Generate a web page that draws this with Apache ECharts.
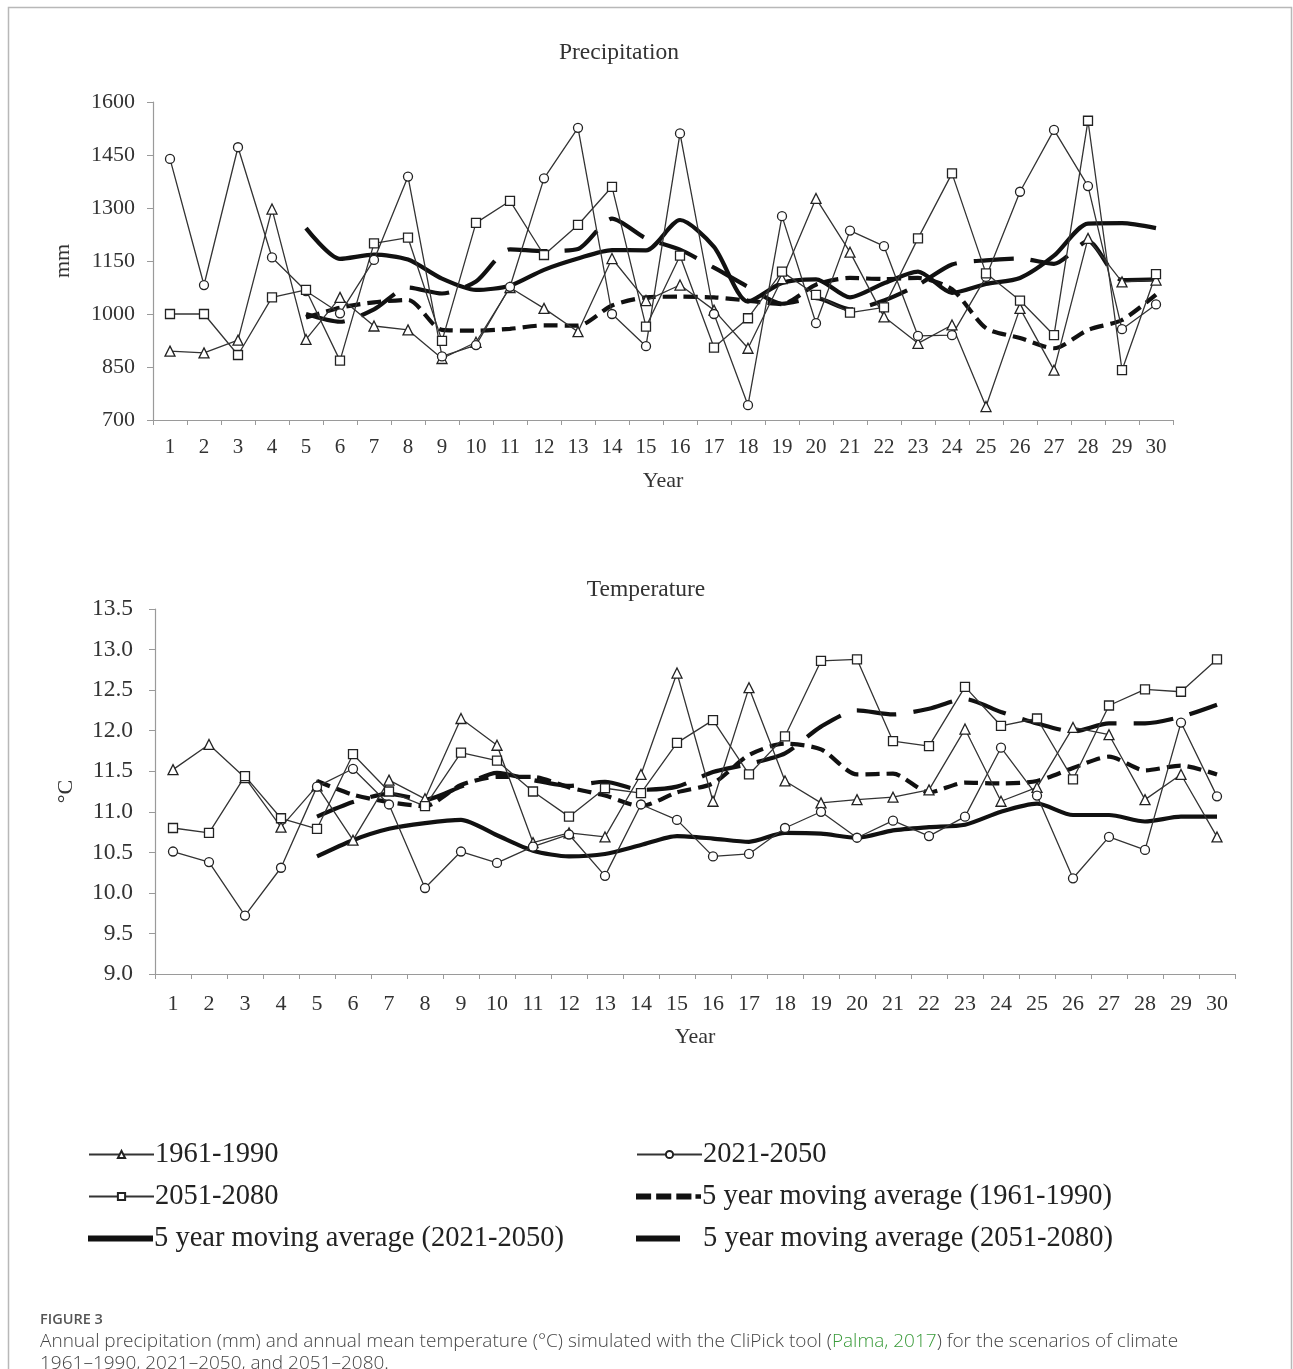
<!DOCTYPE html>
<html>
<head>
<meta charset="utf-8">
<script src="https://cdn.jsdelivr.net/npm/echarts@6/dist/echarts.min.js"></script>
<style>
  html, body { margin: 0; padding: 0; background: #fff; }
  #chart { width: 1293px; height: 1369px; }
</style>
</head>
<body>
<div id="chart"></div>
<script>
// ---------- DATA ----------
const years = ['1','2','3','4','5','6','7','8','9','10','11','12','13','14','15','16','17','18','19','20','21','22','23','24','25','26','27','28','29','30'];

// Precipitation (mm)
const precip1961 = [895, 890, 926, 1297, 928, 1047, 966, 955, 874, 920, 1075, 1016, 950, 1157, 1038, 1082, 1011, 903, 1100, 1327, 1175, 992, 917, 969, 738, 1016, 841, 1214, 1091, 1096];
const precip2021 = [1439, 1082, 1472, 1160, 1065, 1002, 1153, 1389, 880, 912, 1077, 1384, 1527, 1000, 909, 1511, 1000, 742, 1277, 974, 1236, 1192, 938, 940, 1105, 1346, 1521, 1362, 957, 1027];
const precip2051 = [1000, 1000, 884, 1047, 1068, 868, 1200, 1216, 924, 1258, 1320, 1167, 1252, 1360, 964, 1165, 905, 988, 1120, 1054, 1004, 1019, 1214, 1398, 1115, 1038, 940, 1547, 841, 1113];
const precipMA1961 = [null, null, null, null, 990, 1018, 1033, 1040, 955, 953, 958, 968, 967, 1024, 1047, 1049, 1047, 1038, 1028, 1083, 1102, 1099, 1102, 1070, 960, 932, 903, 955, 983, 1055];
const precipMA2021 = [null, null, null, null, 1243, 1156, 1168, 1154, 1100, 1068, 1080, 1125, 1157, 1181, 1180, 1266, 1190, 1035, 1088, 1098, 1047, 1087, 1120, 1060, 1085, 1102, 1165, 1256, 1257, 1243];
const precipMA2051 = [null, null, null, null, 1000, 978, 1013, 1075, 1058, 1092, 1183, 1178, 1184, 1270, 1214, 1182, 1131, 1077, 1029, 1045, 1013, 1038, 1082, 1140, 1152, 1157, 1142, 1206, 1096, 1098];

// Temperature (°C)
const temp1961 = [11.52, 11.83, 11.42, 10.81, 11.32, 10.65, 11.39, 11.16, 12.15, 11.82, 10.62, 10.74, 10.69, 11.46, 12.71, 11.13, 12.53, 11.38, 11.11, 11.15, 11.18, 11.27, 12.02, 11.13, 11.30, 12.04, 11.95, 11.15, 11.46, 10.69];
const temp2021 = [10.51, 10.38, 9.72, 10.31, 11.31, 11.53, 11.09, 10.06, 10.51, 10.37, 10.57, 10.72, 10.21, 11.09, 10.90, 10.45, 10.48, 10.80, 11.00, 10.68, 10.89, 10.70, 10.94, 11.79, 11.20, 10.18, 10.69, 10.53, 12.10, 11.19];
const temp2051 = [10.80, 10.74, 11.44, 10.92, 10.79, 11.71, 11.25, 11.07, 11.73, 11.63, 11.25, 10.94, 11.29, 11.23, 11.85, 12.13, 11.46, 11.93, 12.86, 12.88, 11.87, 11.81, 12.54, 12.06, 12.15, 11.40, 12.31, 12.51, 12.48, 12.88];
const tempMA1961 = [null, null, null, null, 11.38, 11.21, 11.12, 11.07, 11.33, 11.43, 11.43, 11.30, 11.20, 11.07, 11.24, 11.35, 11.70, 11.84, 11.77, 11.46, 11.47, 11.24, 11.36, 11.35, 11.38, 11.54, 11.68, 11.51, 11.57, 11.46];
const tempMA2021 = [null, null, null, null, 10.45, 10.65, 10.79, 10.86, 10.90, 10.71, 10.52, 10.45, 10.48, 10.59, 10.70, 10.67, 10.63, 10.74, 10.73, 10.68, 10.77, 10.81, 10.84, 11.00, 11.10, 10.96, 10.96, 10.88, 10.94, 10.94];
const tempMA2051 = [null, null, null, null, 10.94, 11.12, 11.22, 11.15, 11.31, 11.48, 11.39, 11.32, 11.37, 11.27, 11.31, 11.49, 11.59, 11.72, 12.05, 12.25, 12.20, 12.27, 12.39, 12.23, 12.09, 11.99, 12.09, 12.09, 12.17, 12.32];

const names = ['1961-1990', '2021-2050', '2051-2080',
  '5 year moving average (1961-1990)', '5 year moving average (2021-2050)', '5 year moving average (2051-2080)'];

// ---------- STYLE ----------
const SERIF = '"Liberation Serif", "DejaVu Serif", serif';
const SANS = '"Open Sans", "Noto Sans", sans-serif';
const axisGray = '#9a9a9a';

function thin(name, data, idx, symbol) {
  return {
    type: 'line', name, data, xAxisIndex: idx, yAxisIndex: idx,
    symbol, symbolSize: symbol === 'triangle' ? 10 : 9,
    itemStyle: { color: '#fff', borderColor: '#222', borderWidth: 1.3 },
    lineStyle: { color: '#333', width: 1.3 },
    emphasis: { disabled: true }, z: 3
  };
}
function ma(name, data, idx, dash) {
  return {
    type: 'line', name, data, xAxisIndex: idx, yAxisIndex: idx,
    symbol: 'none', smooth: 0.25, connectNulls: false,
    itemStyle: { color: '#111' },
    lineStyle: { color: '#111', width: 4.2, type: dash, cap: 'butt' },
    emphasis: { disabled: true }, z: 2
  };
}
function xAxisCfg(gridIndex, nameGap, fs, margin) {
  return {
    type: 'category', gridIndex, data: years, boundaryGap: true,
    name: 'Year', nameLocation: 'middle', nameGap,
    nameTextStyle: { fontFamily: SERIF, fontSize: 22, color: '#333' },
    axisLine: { show: true, lineStyle: { color: axisGray, width: 1.2 } },
    axisTick: { show: true, length: 5, lineStyle: { color: axisGray } },
    axisLabel: { fontFamily: SERIF, fontSize: fs, color: '#333', margin },
    splitLine: { show: false }
  };
}
function yAxisCfg(gridIndex, min, max, interval, name, nameGap, fmt, margin, fs) {
  return {
    type: 'value', gridIndex, min, max, interval,
    name, nameLocation: 'middle', nameGap, nameRotate: 90,
    nameTextStyle: { fontFamily: SERIF, fontSize: 22, color: '#333' },
    axisLine: { show: true, lineStyle: { color: axisGray, width: 1.2 } },
    axisTick: { show: true, length: 6, lineStyle: { color: axisGray } },
    axisLabel: { fontFamily: SERIF, fontSize: fs, color: '#333', margin, formatter: fmt },
    splitLine: { show: false }
  };
}

const dashShort = [14, 7];
const dashLong = [40, 17];

// legend icons for the moving averages
const iconMA1961 = 'path://M0,0H15V6H0Z M20,0H35V6H20Z M40,0H55V6H40Z M59,0.8H64.5V5.2H59Z';
const legendText = (pad) => ({ fontFamily: SERIF, fontSize: 28.5, color: '#222', padding: [0, 0, 0, pad] });
function legendItem(item, left, top, w, h, pad) {
  return {
    data: [item], left, top, orient: 'horizontal', padding: 0,
    itemWidth: w, itemHeight: h, itemGap: 0, selectedMode: false,
    symbolKeepAspect: false,
    textStyle: legendText(pad)
  };
}
const rows = [1140, 1182, 1224];
const legends = [
  legendItem({ name: names[0] }, 88, rows[0], 65, 9, -4),
  legendItem({ name: names[2] }, 88, rows[1], 65, 9, -4),
  legendItem({ name: names[4], icon: 'rect' }, 88, rows[2], 65, 6, -4),
  legendItem({ name: names[1] }, 636, rows[0], 65, 9, -4),
  legendItem({ name: names[3], icon: iconMA1961 }, 636, rows[1], 65, 6, -4),
  legendItem({ name: names[5], icon: 'rect' }, 636, rows[2], 44, 6, 18)
];

const option = {
  backgroundColor: '#fff',
  animation: false,
  grid: [
    { left: 153, top: 102, width: 1020, height: 318, containLabel: false },
    { left: 155, top: 609, width: 1080, height: 365, containLabel: false }
  ],
  xAxis: [xAxisCfg(0, 50, 21, 17), xAxisCfg(1, 52, 22, 19)],
  yAxis: [
    yAxisCfg(0, 700, 1600, 150, 'mm', 79, v => String(v), 18, 22),
    yAxisCfg(1, 9, 13.5, 0.5, '°C', 78, v => v.toFixed(1), 22, 23.5)
  ],
  legend: legends,
  series: [
    thin(names[0], precip1961, 0, 'triangle'),
    thin(names[1], precip2021, 0, 'circle'),
    thin(names[2], precip2051, 0, 'rect'),
    ma(names[3], precipMA1961, 0, dashShort),
    ma(names[4], precipMA2021, 0, 'solid'),
    ma(names[5], precipMA2051, 0, dashLong),
    thin(names[0], temp1961, 1, 'triangle'),
    thin(names[1], temp2021, 1, 'circle'),
    thin(names[2], temp2051, 1, 'rect'),
    ma(names[3], tempMA1961, 1, dashShort),
    ma(names[4], tempMA2021, 1, 'solid'),
    ma(names[5], tempMA2051, 1, dashLong)
  ],
  graphic: [
    { type: 'polyline', silent: true,
      shape: { points: [[8.5, 1369], [8.5, 7.5], [1291.5, 7.5], [1291.5, 1369]] },
      style: { stroke: '#b8b8b8', lineWidth: 1.5, fill: null } },
    { type: 'text', x: 619, y: 53, silent: true,
      style: { text: 'Precipitation', font: '23.5px ' + SERIF, fill: '#333', align: 'center', verticalAlign: 'middle' } },
    { type: 'text', x: 646, y: 590, silent: true,
      style: { text: 'Temperature', font: '23.5px ' + SERIF, fill: '#333', align: 'center', verticalAlign: 'middle' } },
    { type: 'text', x: 40, y: 1320, silent: true,
      style: { text: 'FIGURE 3', font: '600 14.5px ' + SANS, fill: '#555', verticalAlign: 'middle' } },
    { type: 'text', x: 40, y: 1342, silent: true,
      style: {
        text: 'Annual precipitation (mm) and annual mean temperature (°C) simulated with the CliPick tool ({g|Palma, 2017}) for the scenarios of climate',
        font: '300 19px ' + SANS, fill: '#444', verticalAlign: 'middle',
        rich: { g: { fill: '#3a9b3a', font: '300 19px ' + SANS } }
      } },
    { type: 'text', x: 40, y: 1364, silent: true,
      style: { text: '1961–1990, 2021–2050, and 2051–2080.', font: '300 19px ' + SANS, fill: '#444', verticalAlign: 'middle' } }
  ]
};

const chart = echarts.init(document.getElementById('chart'), null, { renderer: 'canvas' });
chart.setOption(option);
</script>
</body>
</html>
